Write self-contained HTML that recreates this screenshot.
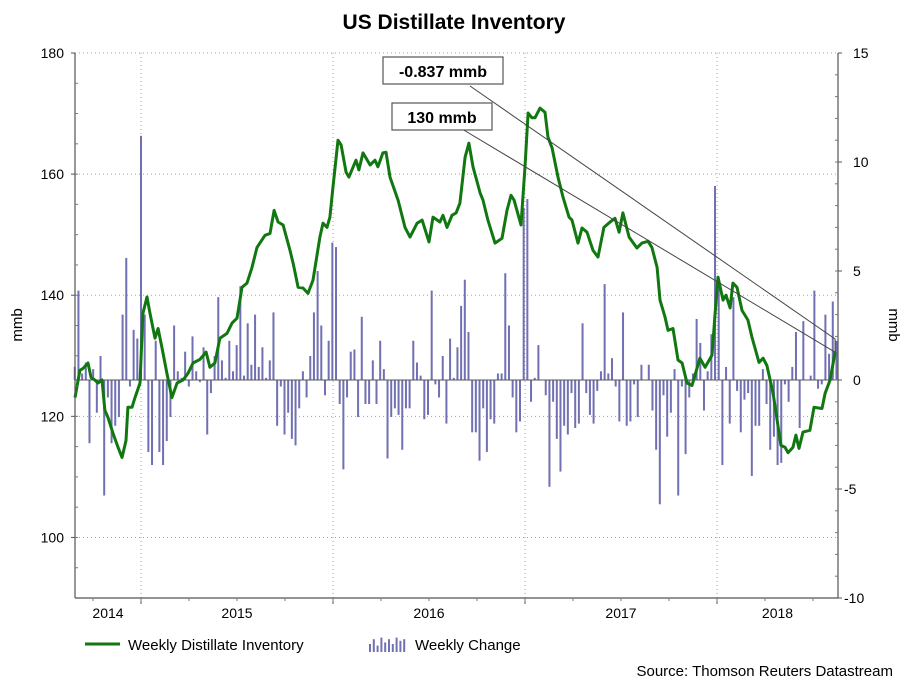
<!DOCTYPE html>
<html><head><meta charset="utf-8"><style>
html,body{margin:0;padding:0;background:#fff;}
body{width:909px;height:682px;overflow:hidden;font-family:"Liberation Sans",Arial,sans-serif;}
</style></head><body>
<svg id="chart" width="909" height="682" viewBox="0 0 909 682" xmlns="http://www.w3.org/2000/svg" font-family="Liberation Sans, Arial, sans-serif">
<text x="454" y="29" text-anchor="middle" font-size="21" font-weight="bold">US Distillate Inventory</text>
<g id="grid"></g>
<g id="bars"></g>
<g id="line"></g>
<g id="axes"></g>
<g id="ann"></g>
<text transform="translate(22,325) rotate(-90)" text-anchor="middle" font-size="15">mmb</text>
<text transform="translate(889,325) rotate(90)" text-anchor="middle" font-size="15">mmb</text>
<g>
<line x1="85" y1="644" x2="120" y2="644" stroke="#117711" stroke-width="3"/>
<text x="128" y="650" font-size="15">Weekly Distillate Inventory</text>
<g id="legbars"></g>
<text x="415" y="650" font-size="15">Weekly Change</text>
</g>
<text x="893" y="676" text-anchor="end" font-size="15">Source: Thomson Reuters Datastream</text>
</svg>
<script>
const yearTicks=[2015,2016,2017,2018];
const yearLabels=["2014","2015","2016","2017","2018"];
const leftTicks=[100,120,140,160,180];
const rightTicks=[-10,-5,0,5,10,15];
const lineDates=[2014.656,2014.682,2014.698,2014.724,2014.740,2014.760,2014.776,2014.797,2014.812,2014.828,2014.854,2014.880,2014.901,2014.922,2014.932,2014.953,2014.969,2014.995,
2015.010,2015.031,2015.047,2015.073,2015.089,2015.109,2015.135,2015.161,2015.188,2015.219,2015.245,2015.271,2015.307,2015.339,2015.359,2015.385,2015.411,2015.448,2015.474,2015.500,2015.526,2015.552,2015.578,2015.604,2015.646,2015.672,2015.693,2015.714,2015.740,2015.776,2015.792,2015.818,2015.844,2015.870,2015.896,2015.932,2015.948,2015.969,2015.984,
2016.000,2016.026,2016.042,2016.068,2016.083,2016.120,2016.135,2016.156,2016.193,2016.219,2016.234,2016.260,2016.276,2016.297,2016.339,2016.375,2016.401,2016.438,2016.464,2016.500,2016.521,2016.557,2016.573,2016.594,2016.620,2016.641,2016.661,2016.688,2016.708,2016.729,2016.766,2016.781,2016.807,2016.844,2016.880,2016.906,2016.927,2016.943,2016.979,
2017.000,2017.016,2017.036,2017.052,2017.078,2017.104,2017.120,2017.141,2017.172,2017.198,2017.229,2017.245,2017.276,2017.297,2017.323,2017.354,2017.380,2017.411,2017.443,2017.469,2017.490,2017.510,2017.542,2017.583,2017.609,2017.641,2017.661,2017.688,2017.703,2017.729,2017.745,2017.771,2017.797,2017.818,2017.844,2017.870,2017.911,2017.938,2017.974,2017.990,
2018.005,2018.031,2018.047,2018.068,2018.083,2018.104,2018.130,2018.161,2018.182,2018.219,2018.240,2018.260,2018.292,2018.333,2018.354,2018.370,2018.396,2018.411,2018.427,2018.448,2018.484,2018.505,2018.547,2018.563,2018.589,2018.615];
const lineValues=[123.1,127.6,127.9,128.8,126.4,126.0,125.5,126.0,121.0,119.8,117.2,114.9,113.2,116.0,121.5,121.5,123.1,125.5,
137.0,139.7,137.0,132.9,134.5,131.4,127.1,123.1,125.5,126.0,127.1,128.8,129.4,130.6,128.1,128.8,132.9,133.7,135.4,136.2,141.3,142.0,144.6,147.9,149.9,150.2,154.0,152.1,151.6,147.4,145.3,141.3,141.2,140.3,142.5,149.6,151.9,151.2,152.9,
157.9,165.6,164.8,160.3,159.5,162.3,160.7,163.5,161.5,162.3,161.2,163.5,163.6,159.5,155.7,151.2,149.6,151.9,152.4,148.8,152.9,152.1,153.2,151.2,153.2,153.6,155.2,162.8,165.1,161.2,156.9,155.7,152.4,148.6,149.4,154.0,156.5,155.7,151.6,
161.2,170.1,169.3,169.3,170.9,170.2,166.1,164.3,159.5,156.2,152.9,152.4,148.6,151.1,150.4,147.4,146.3,151.2,152.1,152.7,150.4,153.6,149.6,147.8,148.6,148.9,147.9,144.6,139.2,136.4,134.2,134.5,129.3,128.8,125.5,125.1,129.6,128.1,130.1,137.0,
143.0,139.2,140.0,137.9,142.0,141.3,137.5,135.9,133.1,128.9,129.6,128.4,123.8,115.2,114.9,114.0,114.9,116.9,114.7,117.4,117.7,121.5,121.3,123.8,126.0,130.6];
const barStart=2014.655;
const barValues=[0.6,4.1,0.3,0.8,-2.9,0.5,-1.5,1.1,-5.3,-0.8,-2.9,-2.1,-1.7,3.0,5.6,-0.3,2.3,1.9,11.2,3.0,-3.3,-3.9,1.8,-3.3,-3.9,-2.8,-1.7,2.5,0.4,0.1,1.3,-0.3,2.0,0.4,-0.1,1.5,-2.5,-0.6,1.1,3.8,0.9,0.1,1.8,0.4,1.6,4.3,0.2,2.6,0.7,3.0,0.6,1.5,0.1,0.9,3.1,
-2.1,-0.3,-2.5,-1.5,-2.7,-3.0,-1.3,0.4,-0.8,1.1,3.1,5.0,2.5,-0.7,1.8,6.3,6.1,-1.1,-4.1,-0.8,1.3,1.4,-1.7,2.9,-1.1,-1.1,0.9,-1.1,1.8,0.5,-3.6,-1.7,-1.3,-1.6,-3.2,-1.3,-1.3,1.8,0.8,0.2,-1.8,-1.6,4.1,-0.2,-0.8,1.1,-2.0,1.9,0.1,1.5,3.4,4.6,2.2,
-2.4,-2.4,-3.7,-1.3,-3.3,-1.8,-2.0,0.3,0.3,4.9,2.5,-0.8,-2.4,-1.9,7.9,8.3,-1.0,0.1,1.6,0.0,-0.7,-4.9,-1.0,-2.7,-4.2,-2.1,-2.5,-0.6,-2.2,-2.0,2.6,-0.6,-1.6,-2.0,-0.5,0.4,4.4,0.3,1.0,-0.3,-1.9,3.1,-2.1,-1.9,-0.2,-1.7,0.7,0.0,0.7,-1.4,-3.2,-5.7,
-0.7,-2.6,-1.5,0.5,-5.3,-0.3,-3.4,-0.8,0.3,2.8,1.7,-1.4,0.4,2.1,8.9,4.4,-3.9,0.6,-2.0,3.8,-0.5,-2.4,-0.9,-0.6,-4.4,-2.1,-2.1,0.5,-1.1,-3.2,-2.6,-3.9,-3.8,-0.2,-1.0,0.6,2.2,-2.2,2.7,0.0,0.2,4.1,-0.4,-0.2,3.0,1.2,3.6,1.8];
const annLabels=["-0.837 mmb","130 mmb"];

const NS="http://www.w3.org/2000/svg";
const L=75,R=838,T=53,B=598;
const xs=d=>141+(d-2015)*192;
const yL=v=>T+(180-v)*(B-T)/90;
const yR=v=>T+(15-v)*(B-T)/25;
function mk(tag,attrs,parent){const e=document.createElementNS(NS,tag);for(const k in attrs)e.setAttribute(k,attrs[k]);document.getElementById(parent).appendChild(e);return e;}

leftTicks.forEach(v=>{
  const g=mk('line',{x1:L,x2:R,y1:yL(v),y2:yL(v),stroke:'#a0a0a0','stroke-dasharray':'1,3'},'grid');
  
  
});
yearTicks.forEach(y=>{
  const g=mk('line',{x1:xs(y),x2:xs(y),y1:T,y2:B,stroke:'#a0a0a0','stroke-dasharray':'1,3'},'grid');
  
  
});

const zero=yR(0);
barValues.forEach((v,i)=>{
  const x=xs(barStart+i*7/365.25);
  const y=yR(v);
  const b=mk('rect',{x:x-1,y:Math.min(y,zero),width:2,height:Math.max(0.5,Math.abs(y-zero)),fill:'#7070b2'},'bars');
  
  
});
const zl=mk('line',{x1:L,x2:R,y1:zero,y2:zero,stroke:'#555',"stroke-width":1},'bars');



const pts=lineDates.map((d,i)=>xs(d).toFixed(1)+','+yL(lineValues[i]).toFixed(1)).join(' ');
const pl=mk('polyline',{points:pts,fill:'none',stroke:'#117711','stroke-width':3,'stroke-linejoin':'round'},'line');



[[L,T,L,B],[R,T,R,B],[L,B,R,B]].forEach(a=>{
  const e=mk('line',{x1:a[0],y1:a[1],x2:a[2],y2:a[3],stroke:'#555','stroke-width':1.2},'axes');
  
  
});
leftTicks.forEach(v=>{
  const t=mk('text',{x:64,y:yL(v)+5,'text-anchor':'end','font-size':14},'axes');
  t.textContent=v;
  
  
  mk('line',{x1:L-4,x2:L,y1:yL(v),y2:yL(v),stroke:'#555'},'axes');
});
for(let v=95;v<=175;v+=5){mk('line',{x1:L,x2:L+3,y1:yL(v),y2:yL(v),stroke:'#777'},'axes');}
rightTicks.forEach(v=>{
  const t=mk('text',{x:v<0?844:853,y:yR(v)+5,'font-size':14},'axes');
  t.textContent=v;
  
  
  mk('line',{x1:R,x2:R+4,y1:yR(v),y2:yR(v),stroke:'#555'},'axes');
});
for(let v=-9;v<15;v++){mk('line',{x1:R-3,x2:R,y1:yR(v),y2:yR(v),stroke:'#777'},'axes');}
yearTicks.forEach(y=>mk('line',{x1:xs(y),x2:xs(y),y1:B,y2:B+6,stroke:'#555'},'axes'));
for(let q=2014.75;q<2018.7;q+=0.25){mk('line',{x1:xs(q),x2:xs(q),y1:B,y2:B+3,stroke:'#777'},'axes');}
yearLabels.forEach((lab,i)=>{
  const yr=+lab;
  const s=Math.max(xs(yr),L), e=Math.min(xs(yr+1),R);
  const t=mk('text',{x:(s+e)/2,y:618,'text-anchor':'middle','font-size':14},'axes');
  t.textContent=lab;
  
  
});

const lastX=xs(lineDates[lineDates.length-1]);
const lastY=yL(lineValues[lineValues.length-1]);
const a1=mk('polyline',{points:`470,86 ${lastX},339 ${lastX},${lastY}`,fill:'none',stroke:'#444','stroke-width':1},'ann');


const a2=mk('line',{x1:462,y1:129,x2:lastX,y2:lastY,stroke:'#444','stroke-width':1},'ann');


[[383,57,120,annLabels[0]],[392,103,100,annLabels[1]]].forEach((b,i)=>{
  const r=mk('rect',{x:b[0],y:b[1],width:b[2],height:27,fill:'#fff',stroke:'#555','stroke-width':1.2},'ann');
  
  
  const t=mk('text',{x:b[0]+b[2]/2,y:b[1]+20,'text-anchor':'middle','font-size':16,'font-weight':'bold'},'ann');
  t.textContent=b[3];
  
  
});

const legBarVals=[0.5,0.8,0.4,0.9,0.6,0.8,0.5,0.9,0.7,0.8];
legBarVals.forEach((v,i)=>{
  const e=mk('rect',{x:369+i*3.8,y:652-v*16,width:2,height:v*16,fill:'#7070b2'},'legbars');
  
  
});
</script>
</body></html>
